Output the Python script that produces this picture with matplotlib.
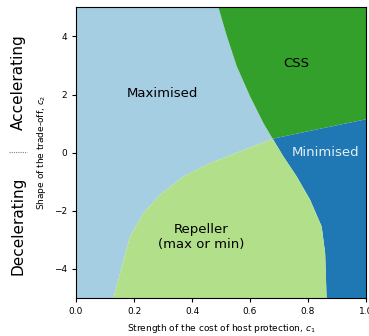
import numpy as np
import matplotlib
matplotlib.use('Agg')
import matplotlib.pyplot as plt

# boundary curves (c1 along x, c2 along y)
max_rep_c1 = [0.129, 0.152, 0.186, 0.232, 0.29, 0.37, 0.462, 0.566, 0.678]
max_rep_c2 = [-5.0, -4.15, -2.89, -2.08, -1.45, -0.82, -0.36, 0.045, 0.48]

rep_min_c1 = [0.864, 0.862, 0.859, 0.847, 0.807, 0.761, 0.715, 0.678]
rep_min_c2 = [-5.0, -4.4, -3.46, -2.54, -1.62, -0.82, -0.13, 0.48]

max_css_c1 = [0.678, 0.646, 0.6, 0.554, 0.52, 0.491]
max_css_c2 = [0.48, 1.02, 1.94, 2.98, 4.01, 5.0]

css_min_c1 = [0.678, 0.83, 1.0]
css_min_c2 = [0.48, 0.8, 1.15]

region_names = ['Maximised', 'CSS', 'Minimised', 'Repeller\n(max or min)']
region_colors = ['#a6cee3', '#33a02c', '#1f78b4', '#b2df8a']
label_c1 = [0.297, 0.76, 0.862, 0.43]
label_c2 = [2.03, 3.07, 0.0, -2.9]
label_colors = ['black', 'black', '#e4eef6', 'black']

xmin, xmax, ymin, ymax = 0.0, 1.0, -5.0, 5.0

fig = plt.figure(figsize=(3.69, 3.36), dpi=100)
ax = fig.add_axes([0.206, 0.113, 0.786, 0.865])

# Maximised
px = [xmin] + max_rep_c1 + max_css_c1[1:] + [xmin]
py = [ymin] + max_rep_c2 + max_css_c2[1:] + [ymax]
ax.fill(px, py, color=region_colors[0], lw=0)

# CSS
px = max_css_c1 + [xmax] + css_min_c1[::-1]
py = max_css_c2 + [ymax] + css_min_c2[::-1]
ax.fill(px, py, color=region_colors[1], lw=0)

# Minimised
px = rep_min_c1 + css_min_c1[1:] + [xmax]
py = rep_min_c2 + css_min_c2[1:] + [ymin]
ax.fill(px, py, color=region_colors[2], lw=0)

# Repeller
px = max_rep_c1 + rep_min_c1[::-1][1:]
py = max_rep_c2 + rep_min_c2[::-1][1:]
ax.fill(px, py, color=region_colors[3], lw=0)

for name, x, y, c in zip(region_names, label_c1, label_c2, label_colors):
    ax.text(x, y, name, ha='center', va='center', fontsize=9.5, color=c)

ax.set_xlim(xmin, xmax)
ax.set_ylim(ymin, ymax)
ax.set_xticks([0.0, 0.2, 0.4, 0.6, 0.8, 1.0])
ax.set_yticks([-4, -2, 0, 2, 4])
ax.tick_params(labelsize=6.5, length=3)
ax.set_xlabel('Strength of the cost of host protection, $c_1$', fontsize=6.5)
ax.set_ylabel('Shape of the trade-off, $c_2$', fontsize=6.5)

fig.text(0.049, 0.756, 'Accelerating', rotation=90, ha='center', va='center', fontsize=11)
fig.text(0.049, 0.327, 'Decelerating', rotation=90, ha='center', va='center', fontsize=11)
fig.lines.append(plt.Line2D([0.025, 0.073], [0.548, 0.548], transform=fig.transFigure,
                            color='grey', lw=0.8, ls=(0, (1, 1))))

fig.savefig('out.png', dpi=100)
